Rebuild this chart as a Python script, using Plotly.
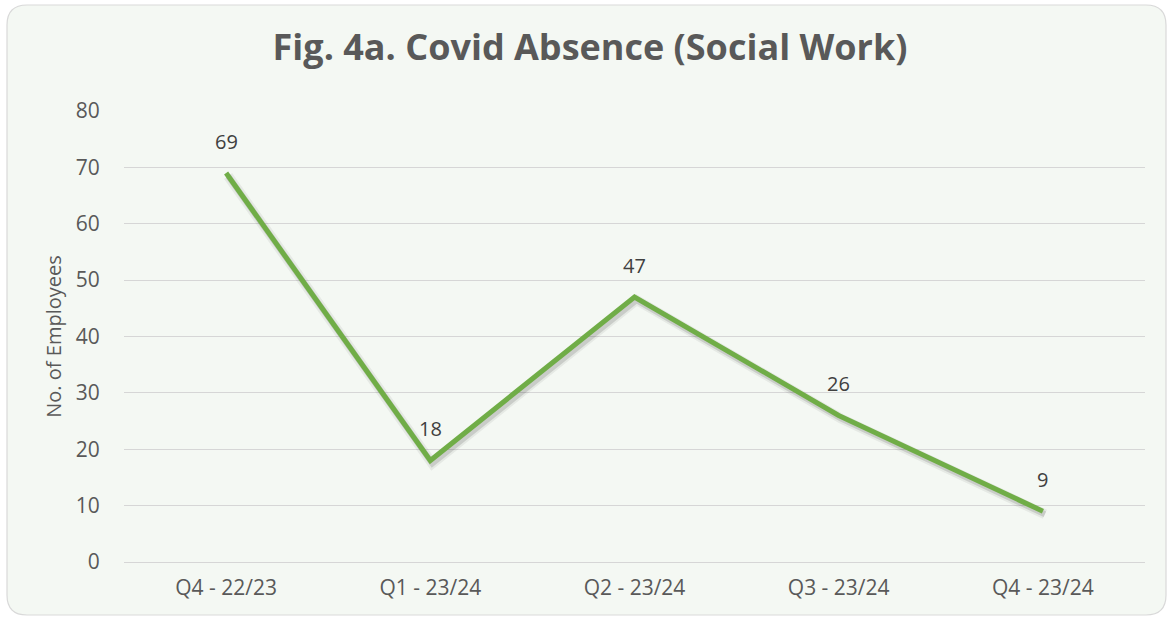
import plotly.graph_objects as go

categories = ["Q4 - 22/23", "Q1 - 23/24", "Q2 - 23/24", "Q3 - 23/24", "Q4 - 23/24"]
values = [69, 18, 47, 26, 9]
y_ticks = [0, 10, 20, 30, 40, 50, 60, 70, 80]

W, H = 1168, 619
L, R, T, B = 124, 23, 111, 57
pw, ph = W - L - R, H - T - B

def px_x(p):
    return (p - L) / pw

def px_y(p):
    return (H - B - p) / ph

FONT = "Open Sans"
GREY = "#595959"
GREEN = "#70ad47"
BG = "#f4f8f3"
GRID = "#d6d6d6"

fig = go.Figure()
xs = list(range(len(categories)))

# invisible trace on the main axes so that the axes and gridlines are drawn
fig.add_trace(go.Scatter(x=xs, y=values, mode="lines",
                         line=dict(color="rgba(0,0,0,0)", width=0),
                         hoverinfo="skip", showlegend=False))
# soft shadow lines (slightly offset axis)
fig.add_trace(go.Scatter(x=xs, y=values, mode="lines",
                         line=dict(color="rgba(0,0,0,0.06)", width=10),
                         xaxis="x2", yaxis="y2", hoverinfo="skip", showlegend=False))
fig.add_trace(go.Scatter(x=xs, y=values, mode="lines",
                         line=dict(color="rgba(0,0,0,0.12)", width=6),
                         xaxis="x2", yaxis="y2", hoverinfo="skip", showlegend=False))
# main line on top-most overlay axes
fig.add_trace(go.Scatter(x=xs, y=values, mode="lines",
                         line=dict(color=GREEN, width=5),
                         xaxis="x3", yaxis="y3", hoverinfo="skip", showlegend=False))

for i, v in enumerate(values):
    fig.add_annotation(x=i, y=v, text=str(v), showarrow=False, yshift=32,
                       font=dict(family=FONT, size=20, color="#404040"))

# rounded chart frame
x0, x1 = px_x(7), px_x(1166)
y0, y1 = px_y(615), px_y(5)
rx, ry = 20 / pw, 20 / ph
path = (f"M {x0+rx},{y1} L {x1-rx},{y1} Q {x1},{y1} {x1},{y1-ry} "
        f"L {x1},{y0+ry} Q {x1},{y0} {x1-rx},{y0} L {x0+rx},{y0} "
        f"Q {x0},{y0} {x0},{y0+ry} L {x0},{y1-ry} Q {x0},{y1} {x0+rx},{y1} Z")
fig.add_shape(type="path", xref="paper", yref="paper", path=path,
              fillcolor=BG, line=dict(color="#d9d9d9", width=1.2), layer="below")

dx = 2 / (pw / 5)
dy = 3 / (ph / 80)
fig.update_layout(
    width=W, height=H,
    margin=dict(l=L, r=R, t=T, b=B),
    paper_bgcolor="white", plot_bgcolor="rgba(0,0,0,0)",
    title=dict(text="<b>Fig. 4a. Covid Absence (Social Work)</b>", x=590 / W, xref="container",
               xanchor="center", y=1 - 47 / H, yanchor="middle",
               font=dict(family=FONT, size=36, color=GREY)),
    xaxis=dict(range=[-0.5, 4.5], tickmode="array", tickvals=xs, ticktext=categories,
               showgrid=False, zeroline=False, showline=False,
               tickfont=dict(family=FONT, size=21, color=GREY), ticks="outside",
               ticklen=7, tickcolor="rgba(0,0,0,0)"),
    yaxis=dict(range=[0, 80], tickvals=y_ticks, showgrid=True, gridcolor=GRID, gridwidth=1.3,
               zeroline=True, zerolinecolor=GRID, zerolinewidth=1.3, showline=False,
               tickfont=dict(family=FONT, size=21, color=GREY), ticks="outside",
               ticklen=19, tickcolor="rgba(0,0,0,0)",
               title=dict(text="No. of Employees", font=dict(family=FONT, size=20, color=GREY),
                          standoff=8)),
    xaxis2=dict(range=[-0.5 - dx, 4.5 - dx], overlaying="x", visible=False),
    yaxis2=dict(range=[0 + dy, 80 + dy], overlaying="y", visible=False),
    xaxis3=dict(range=[-0.5, 4.5], overlaying="x", visible=False),
    yaxis3=dict(range=[0, 80], overlaying="y", visible=False),
)

fig.write_html("out.html", config={"displayModeBar": False},
               post_script="document.body.style.margin='0';document.body.style.overflow='hidden';")
